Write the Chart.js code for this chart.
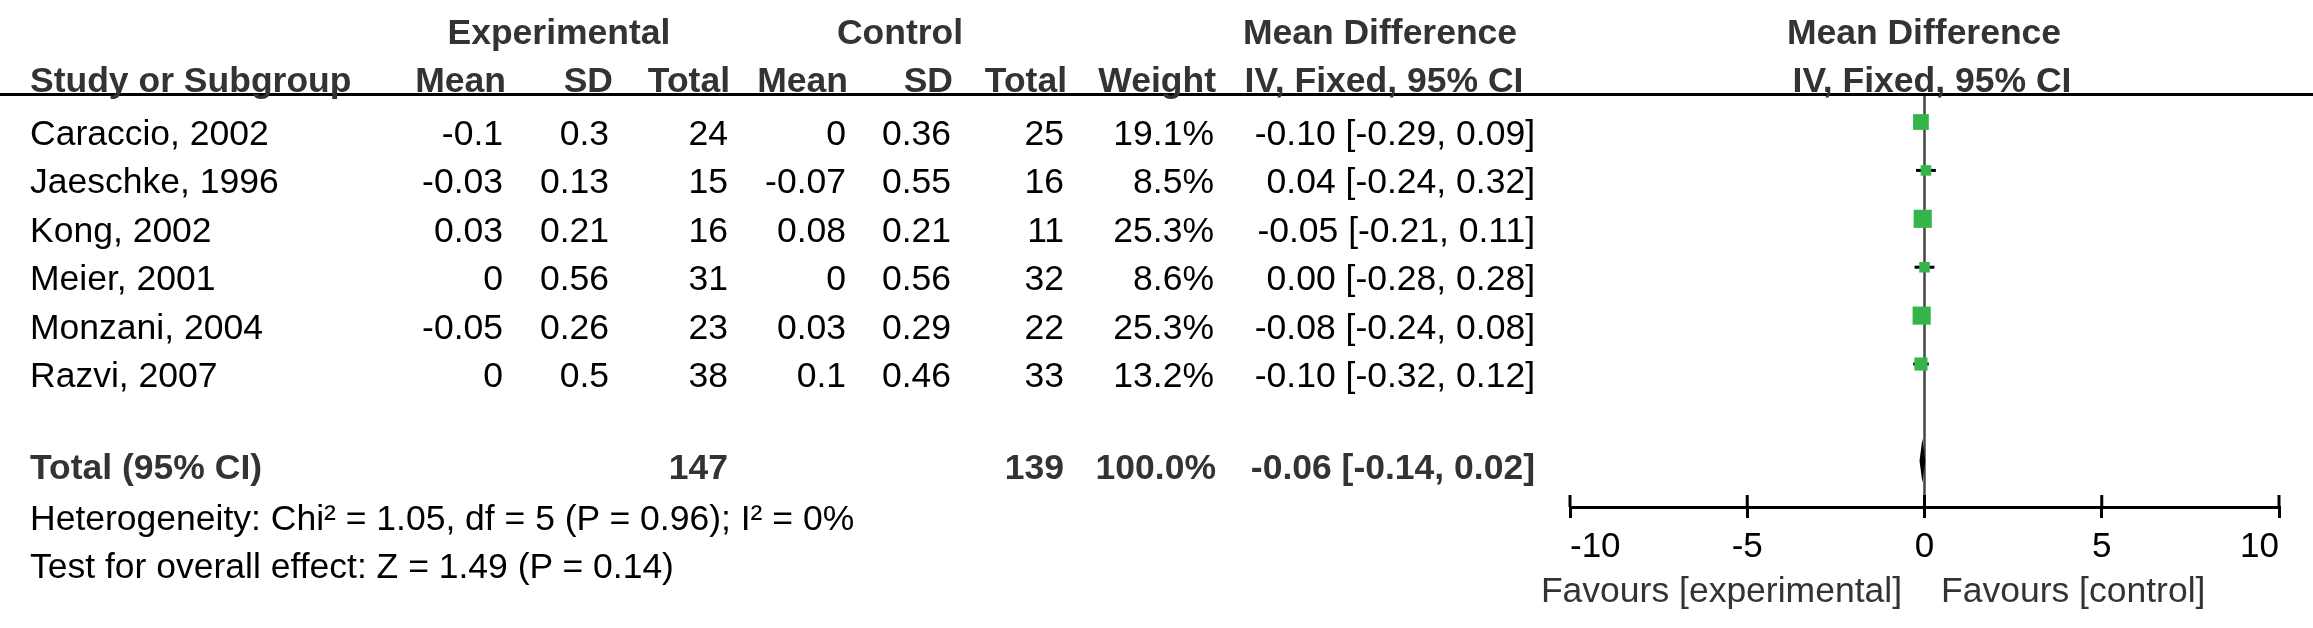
<!DOCTYPE html>
<html>
<head>
<meta charset="utf-8">
<script src="https://cdn.jsdelivr.net/npm/chart.js@4.4.1/dist/chart.umd.min.js"></script>
<style>
  html, body { margin: 0; padding: 0; background: #fff; }
  #page { position: relative; width: 2313px; height: 628px; overflow: hidden; font-family: "Liberation Sans", Arial, Helvetica, sans-serif; }
  #plot { position: absolute; left: 0; top: 0; width: 2313px; height: 628px; }
  .t { position: absolute; white-space: nowrap; font-size: 35.5px; line-height: 40px; height: 40px; color: #000; }
  .b { font-weight: bold; color: #333; }
  .g { color: #333; }
  #rule { position: absolute; left: 0; top: 93px; width: 2313px; height: 3px; background: #000; }
</style>
</head>
<body>
<div id="page">
  <div id="plot"><canvas id="forest"></canvas></div>
  <div id="rule"></div>
</div>
<script>
// study data
const studies = ["Caraccio, 2002", "Jaeschke, 1996", "Kong, 2002", "Meier, 2001", "Monzani, 2004", "Razvi, 2007"];
const expMean = [-0.1, -0.03, 0.03, 0, -0.05, 0];
const expSD = [0.3, 0.13, 0.21, 0.56, 0.26, 0.5];
const expN = [24, 15, 16, 31, 23, 38];
const ctrlMean = [0, -0.07, 0.08, 0, 0.03, 0.1];
const ctrlSD = [0.36, 0.55, 0.21, 0.56, 0.29, 0.46];
const ctrlN = [25, 16, 11, 32, 22, 33];
const weight = [19.1, 8.5, 25.3, 8.6, 25.3, 13.2];
const md = [-0.10, 0.04, -0.05, 0.00, -0.08, -0.10];
const ciLow = [-0.29, -0.24, -0.21, -0.28, -0.24, -0.32];
const ciHigh = [0.09, 0.32, 0.11, 0.28, 0.08, 0.12];

// pooled result
const totalExpN = 147;
const totalCtrlN = 139;
const totalWeight = 100.0;
const totalMd = -0.06;
const totalLow = -0.14;
const totalHigh = 0.02;
const heterogeneity = "Heterogeneity: Chi² = 1.05, df = 5 (P = 0.96); I² = 0%";
const overallTest = "Test for overall effect: Z = 1.49 (P = 0.14)";

// axis
const xTicks = [-10, -5, 0, 5, 10];
const favoursLeft = "Favours [experimental]";
const favoursRight = "Favours [control]";

const W = 2313;
const page = document.getElementById("page");

function put(text, x, y, align, cls) {
  const el = document.createElement("div");
  el.className = "t" + (cls ? " " + cls : "");
  el.textContent = text;
  el.style.top = (y - 20) + "px";
  if (align === "left") {
    el.style.left = x + "px";
  } else if (align === "right") {
    el.style.right = (W - x) + "px";
  } else {
    el.style.left = (x - 500) + "px";
    el.style.width = "1000px";
    el.style.textAlign = "center";
  }
  page.appendChild(el);
}

// headers
put("Experimental", 559, 32, "center", "b");
put("Control", 900, 32, "center", "b");
put("Mean Difference", 1380, 32, "center", "b");
put("Mean Difference", 1924, 32, "center", "b");
put("Study or Subgroup", 30, 80, "left", "b");
put("Mean", 506, 80, "right", "b");
put("SD", 613, 80, "right", "b");
put("Total", 730, 80, "right", "b");
put("Mean", 848, 80, "right", "b");
put("SD", 953, 80, "right", "b");
put("Total", 1067, 80, "right", "b");
put("Weight", 1216, 80, "right", "b");
put("IV, Fixed, 95% CI", 1384, 80, "center", "b");
put("IV, Fixed, 95% CI", 1932, 80, "center", "b");

// study rows
const rowY0 = 133, rowStep = 48.4;
studies.forEach(function (s, i) {
  const y = rowY0 + rowStep * i;
  put(s, 30, y, "left");
  put(String(expMean[i]), 503, y, "right");
  put(String(expSD[i]), 609, y, "right");
  put(String(expN[i]), 728, y, "right");
  put(String(ctrlMean[i]), 846, y, "right");
  put(String(ctrlSD[i]), 951, y, "right");
  put(String(ctrlN[i]), 1064, y, "right");
  put(weight[i].toFixed(1) + "%", 1214, y, "right");
  put(md[i].toFixed(2) + " [" + ciLow[i].toFixed(2) + ", " + ciHigh[i].toFixed(2) + "]", 1535, y, "right");
});

// totals and footer
put("Total (95% CI)", 30, 467, "left", "b");
put(String(totalExpN), 728, 467, "right", "b");
put(String(totalCtrlN), 1064, 467, "right", "b");
put(totalWeight.toFixed(1) + "%", 1216, 467, "right", "b");
put(totalMd.toFixed(2) + " [" + totalLow.toFixed(2) + ", " + totalHigh.toFixed(2) + "]", 1535, 467, "right", "b");
put(heterogeneity, 30, 518, "left");
put(overallTest, 30, 566, "left");
put(favoursLeft, 1902, 590, "right", "g");
put(favoursRight, 1941, 590, "left", "g");

// forest plot
const totalRow = studies.length + 1;

const forestPlugin = {
  id: "forest",
  beforeDatasetsDraw(chart) {
    const ctx = chart.ctx, x = chart.scales.x, y = chart.scales.y, area = chart.chartArea;
    ctx.save();
    // line of no effect
    ctx.strokeStyle = "#444";
    ctx.lineWidth = 2.5;
    ctx.beginPath();
    ctx.moveTo(x.getPixelForValue(0), area.top);
    ctx.lineTo(x.getPixelForValue(0), area.bottom);
    ctx.stroke();
    // confidence intervals
    ctx.strokeStyle = "#000";
    ctx.lineWidth = 3;
    studies.forEach(function (s, i) {
      const py = y.getPixelForValue(i);
      ctx.beginPath();
      ctx.moveTo(x.getPixelForValue(ciLow[i]), py);
      ctx.lineTo(x.getPixelForValue(ciHigh[i]), py);
      ctx.stroke();
    });
    ctx.restore();
  },
  afterDatasetsDraw(chart) {
    const ctx = chart.ctx, x = chart.scales.x, y = chart.scales.y;
    const py = y.getPixelForValue(totalRow);
    ctx.save();
    ctx.fillStyle = "#000";
    ctx.beginPath();
    ctx.moveTo(x.getPixelForValue(totalLow), py);
    ctx.lineTo(x.getPixelForValue(totalMd), py - 22);
    ctx.lineTo(x.getPixelForValue(totalHigh), py);
    ctx.lineTo(x.getPixelForValue(totalMd), py + 22);
    ctx.closePath();
    ctx.fill();
    ctx.restore();
  },
  afterDraw(chart) {
    // tick marks also reach above the axis line
    const ctx = chart.ctx, x = chart.scales.x, area = chart.chartArea;
    ctx.save();
    ctx.strokeStyle = "#000";
    ctx.lineWidth = 3;
    xTicks.forEach(function (v) {
      const px = x.getPixelForValue(v);
      ctx.beginPath();
      ctx.moveTo(px, area.bottom - 12);
      ctx.lineTo(px, area.bottom);
      ctx.stroke();
    });
    ctx.restore();
  }
};

new Chart(document.getElementById("forest"), {
  type: "scatter",
  data: {
    datasets: [{
      data: studies.map(function (s, i) { return { x: md[i], y: i }; }),
      pointStyle: "rect",
      pointRadius: function (c) { return 2.55 * Math.sqrt(weight[c.dataIndex]); },
      pointHoverRadius: function (c) { return 2.55 * Math.sqrt(weight[c.dataIndex]); },
      backgroundColor: "#35b44a",
      borderWidth: 0
    }]
  },
  options: {
    responsive: true,
    maintainAspectRatio: false,
    animation: false,
    layout: { padding: { left: 1570, right: 34, top: 94, bottom: 52 } },
    plugins: { legend: { display: false }, tooltip: { enabled: false } },
    scales: {
      x: {
        type: "linear",
        min: -10,
        max: 10,
        afterBuildTicks: function (axis) { axis.ticks = xTicks.map(function (v) { return { value: v }; }); },
        ticks: { color: "#000", font: { size: 35, family: "'Liberation Sans', Arial, sans-serif" }, padding: 8, align: "inner", autoSkip: false, maxRotation: 0 },
        grid: { drawOnChartArea: false, drawTicks: true, tickLength: 11, color: "#000", lineWidth: 3 },
        border: { display: true, color: "#000", width: 3 }
      },
      y: {
        type: "linear",
        display: false,
        reverse: true,
        min: -0.579,
        max: 7.954
      }
    }
  },
  plugins: [forestPlugin]
});
</script>
</body>
</html>
